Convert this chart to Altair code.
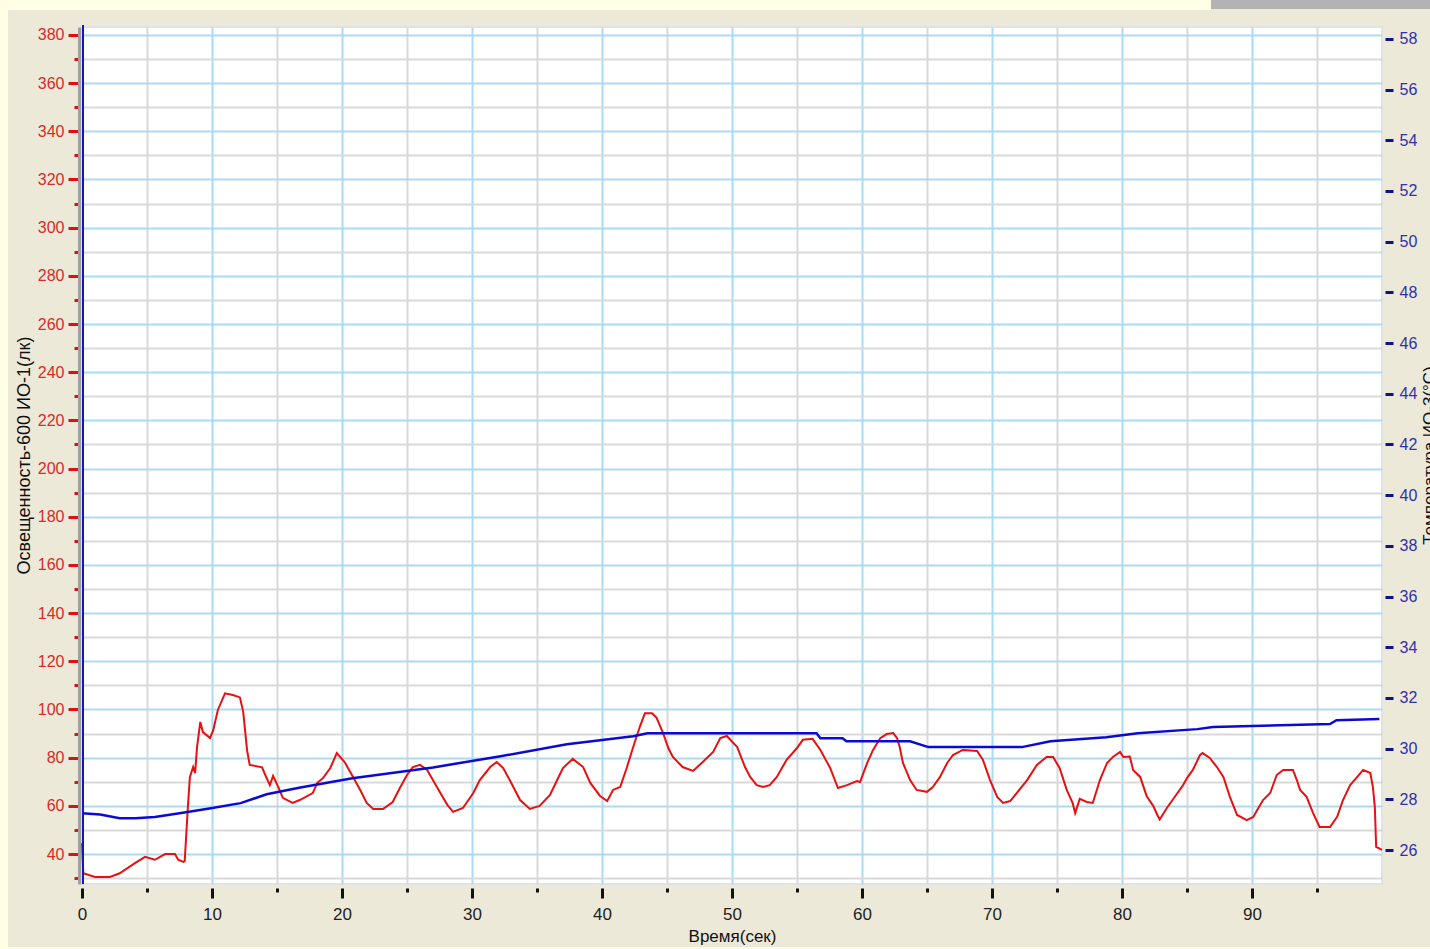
import altair as alt
import pandas as pd

# Illuminance sensor ("Освещенность-600 ИО-1"), lux vs. time in seconds
lux_time = [
    0.0, 0.1, 1.0, 2.15, 2.9, 4.1, 4.85, 5.6, 6.4, 7.15,
    7.4, 7.8, 7.9, 8.15, 8.3, 8.55, 8.7, 8.85, 9.1, 9.3,
    9.85, 10.1, 10.45, 11.0, 11.6, 12.15, 12.4, 12.7, 12.9, 13.85,
    14.1, 14.45, 14.7, 15.1, 15.45, 16.2, 16.75, 17.75, 18.1, 18.55,
    19.1, 19.6, 20.2, 20.85, 21.4, 21.9, 22.4, 23.15, 23.9, 24.45,
    25.0, 25.45, 26.0, 26.55, 27.3, 28.1, 28.55, 29.3, 30.1, 30.6,
    31.4, 31.9, 32.4, 32.9, 33.7, 34.45, 35.2, 36.0, 36.55, 37.0,
    37.75, 38.55, 39.1, 39.85, 40.4, 40.85, 41.4, 41.9, 42.4, 42.9,
    43.3, 43.85, 44.2, 44.7, 45.1, 45.45, 46.2, 47.0, 47.75, 48.55,
    49.1, 49.6, 50.4, 51.0, 51.4, 51.9, 52.4, 52.9, 53.45, 54.2,
    55.0, 55.45, 56.2, 56.8, 57.55, 58.15, 58.85, 59.6, 59.85, 60.4,
    60.85, 61.4, 61.9, 62.4, 62.7, 62.9, 63.15, 63.7, 64.2, 65.0,
    65.45, 66.0, 66.55, 67.0, 67.75, 68.85, 69.3, 69.85, 70.4, 70.85,
    71.4, 71.9, 72.7, 73.45, 74.2, 74.7, 75.2, 75.75, 76.2, 76.4,
    76.75, 77.3, 77.75, 78.3, 78.85, 79.3, 79.85, 80.1, 80.6, 80.85,
    81.4, 81.9, 82.4, 82.7, 82.9, 83.45, 84.2, 84.7, 85.0, 85.45,
    86.0, 86.2, 86.75, 87.3, 87.8, 88.3, 88.85, 89.6, 90.1, 90.4,
    90.85, 91.4, 91.9, 92.4, 93.15, 93.45, 93.7, 94.2, 94.7, 95.2,
    96.0, 96.55, 97.0, 97.55, 98.1, 98.55, 99.1, 99.3, 99.45, 99.55,
    99.85, 100.0,
]
lux_value = [
    44.5, 32, 30.5, 30.5, 32, 36.3, 38.8, 37.6, 40, 40,
    37.6, 36.7, 37, 60, 72, 76.1, 73.6, 84.4, 94.8, 90.6,
    88.1, 91.5, 99.8, 106.7, 106, 105, 99, 83, 77, 76,
    72.8, 68.6, 72.4, 67.8, 63.3, 61.2, 62.4, 65.3, 69.5, 71.6,
    75.7, 81.9, 78.2, 72, 66.6, 61.2, 58.7, 58.7, 61.6, 67.4,
    72.8, 76.1, 77, 74.9, 67.8, 60.4, 57.5, 59.1, 65.3, 70.7,
    76.1, 78.2, 75.7, 70.7, 62.4, 58.7, 60, 64.5, 70.7, 75.7,
    79.5, 76.1, 69.5, 64.1, 62, 66.6, 67.8, 75.7, 84.4, 92.7,
    98.4, 98.4, 96.5, 90.2, 84, 80.3, 76.1, 74.5, 78.2, 82.4,
    88.1, 89, 84.4, 76.1, 72, 68.6, 67.8, 68.6, 72, 79.1,
    84, 87.4, 87.8, 83.2, 75.7, 67.4, 68.6, 70.3, 69.9, 77.8,
    83.2, 88.1, 89.8, 90.2, 88.1, 84.4, 77.8, 70.7, 66.6, 65.8,
    67.8, 72, 77.8, 81.1, 83.2, 82.8, 79.1, 70.7, 63.7, 61.2,
    62, 65.3, 70.7, 77, 80.3, 80.3, 75.7, 66.6, 61.2, 57,
    62.9, 61.6, 61.2, 70.7, 77.8, 80.3, 82.4, 80.3, 80.5, 74.9,
    72, 64, 60, 56.4, 54.3, 59.1, 64.8, 68.6, 71.5, 74.9,
    81.1, 81.9, 79.9, 76.1, 72, 63.7, 56.2, 54.1, 55.4, 58.3,
    62.4, 65.3, 72.8, 74.9, 74.9, 70.7, 66.6, 63.7, 57, 51.2,
    51.2, 55.4, 62.4, 68.6, 72, 74.9, 73.6, 67.8, 59.5, 43,
    42.1, 41.7,
]

# Temperature sensor ("Температура ИО-3"), °C vs. time in seconds
temp_time = [
    0.0, 1.4, 2.9, 4.1, 5.6, 7.5, 9.8, 12.2, 14.2, 16.8,
    20.8, 27.0, 32.2, 37.3, 42.4, 43.5, 56.5, 56.8, 58.5, 58.8,
    63.7, 65.1, 72.3, 74.5, 78.8, 81.2, 85.8, 87.0, 96.0, 96.5,
    99.8,
]
temp_value = [
    27.45, 27.4, 27.25, 27.25, 27.3, 27.45, 27.64, 27.85, 28.2, 28.47,
    28.83, 29.26, 29.7, 30.17, 30.49, 30.61, 30.61, 30.41, 30.41, 30.29,
    30.29, 30.06, 30.06, 30.29, 30.45, 30.61, 30.77, 30.85, 30.97, 31.12,
    31.17,
]

# Axis tick positions
time_ticks = list(range(0, 100, 5))
lux_ticks = list(range(30, 390, 10))
temp_ticks = list(range(26, 60, 2))

lux_df = pd.DataFrame({"t": lux_time, "lux": lux_value})
temp_df = pd.DataFrame({"t": temp_time, "temp": temp_value})

W, H = 1300, 857
FONT = "Liberation Sans"
GRID_BLUE = "#a9dcf3"
GRID_GRAY = "#d9d9d9"
PANEL = "#ece9d8"
PAGE = "#ffffe6"

x_enc = alt.X(
    "t:Q",
    scale=alt.Scale(domain=[0, 100], nice=False, zero=False),
    axis=alt.Axis(
        values=time_ticks,
        title="Время(сек)",
        grid=True,
        gridColor={"condition": {"test": "datum.value % 10 === 0", "value": GRID_BLUE}, "value": GRID_GRAY},
        gridWidth=2,
        domain=False,
        offset=4,
        tickColor="#111111",
        tickWidth=3,
        tickSize={"condition": {"test": "datum.value % 10 === 0", "value": 10}, "value": 4},
        labelExpr="datum.value % 10 === 0 ? datum.label : ''",
        labelFlush=False,
        labelFont=FONT,
        labelFontSize=17,
        labelColor="#222222",
        labelPadding=8,
        titleFont=FONT,
        titleFontSize=17,
        titleFontWeight="normal",
        titleColor="#111111",
        titlePadding=6,
    ),
)

lux_axis = alt.Axis(
    orient="left",
    values=lux_ticks,
    title="Освещенность-600 ИО-1(лк)",
    grid=True,
    gridColor={"condition": {"test": "datum.value % 20 === 0", "value": GRID_BLUE}, "value": GRID_GRAY},
    gridWidth=2,
    domain=True,
    domainColor="#a0a0a0",
    domainWidth=3,
    offset=3,
    tickColor="#e01010",
    tickWidth=3,
    tickSize={"condition": {"test": "datum.value % 20 === 0", "value": 11}, "value": 5},
    labelExpr="datum.value % 20 === 0 ? datum.label : ''",
    labelFlush=False,
    labelFont=FONT,
    labelFontSize=16,
    labelColor="#d62b2b",
    labelPadding=4,
    titleFont=FONT,
    titleFontSize=18,
    titleFontWeight="normal",
    titleColor="#111111",
    titleAngle=270,
    titleAlign="center",
    titleBaseline="middle",
    titleX=-55,
    titleY=428,
)

temp_axis = alt.Axis(
    orient="right",
    values=temp_ticks,
    title="Температура ИО-3(°C)",
    grid=False,
    domain=False,
    offset=3,
    tickColor="#10108a",
    tickWidth=3,
    tickSize=8,
    labelFlush=False,
    labelFont=FONT,
    labelFontSize=16,
    labelColor="#3030b0",
    labelPadding=6,
    titleFont=FONT,
    titleFontSize=17,
    titleFontWeight="normal",
    titleColor="#111111",
    titleAngle=270,
    titleAlign="center",
    titleBaseline="middle",
    titleX=44,
    titleY=428,
)

one_row = alt.Data(values=[{"k": 0}])

# Window frame pieces around the plot panel
page_left = alt.Chart(one_row).mark_rect(color=PAGE).encode(
    x=alt.value(-82), x2=alt.value(-74), y=alt.value(-27), y2=alt.value(H + 65)
)
page_top = alt.Chart(one_row).mark_rect(color=PAGE).encode(
    x=alt.value(-82), x2=alt.value(1129), y=alt.value(-27), y2=alt.value(-17)
)
page_bottom = alt.Chart(one_row).mark_rect(color=PAGE).encode(
    x=alt.value(-82), x2=alt.value(W + 48), y=alt.value(H + 63), y2=alt.value(H + 65)
)
gray_bar = alt.Chart(one_row).mark_rect(color="#b3b3b3").encode(
    x=alt.value(1129), x2=alt.value(W + 48), y=alt.value(-27), y2=alt.value(-18)
)

temp_line = alt.Chart(temp_df).mark_line(color="#0a0ad0", strokeWidth=2.5).encode(
    x=x_enc,
    y=alt.Y("temp:Q", scale=alt.Scale(domain=[24.66, 58.47], nice=False, zero=False), axis=temp_axis),
)

lux_line = alt.Chart(lux_df).mark_line(color="#e81010", strokeWidth=2).encode(
    x=x_enc,
    y=alt.Y("lux:Q", scale=alt.Scale(domain=[27.55, 383.3], nice=False, zero=False), axis=lux_axis),
)

# Dark blue vertical line at the time origin
origin_rule = alt.Chart(one_row).mark_rule(color="#1414c8", strokeWidth=2).encode(
    x=alt.value(1), y=alt.value(-2), y2=alt.value(H)
)

chart = (
    alt.layer(page_left, page_top, page_bottom, gray_bar, lux_line, temp_line, origin_rule)
    .resolve_scale(y="independent")
    .properties(
        width=W,
        height=H,
        background=PANEL,
        padding={"left": 82, "top": 27, "right": 48, "bottom": 65},
        autosize=alt.AutoSizeParams(type="none"),
    )
    .configure_view(fill="white", stroke="#e2e2e2", strokeWidth=2)
)

chart.save("out.html", embed_options={"renderer": "svg", "actions": False})
